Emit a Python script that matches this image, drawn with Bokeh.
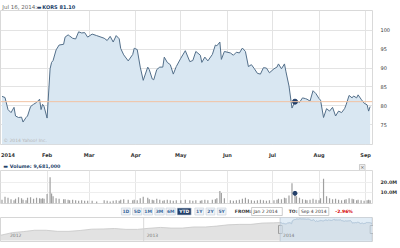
import pandas as pd
from bokeh.plotting import figure
from bokeh.layouts import column
from bokeh.models import Range1d, FixedTicker, PrintfTickFormatter, Span, Label, BoxAnnotation, ColumnDataSource
from bokeh.embed import file_html
from bokeh.resources import INLINE
from bokeh.core.properties import value

# ---------------- data ----------------
dates = [
    "2014-01-02", "2014-01-04", "2014-01-06", "2014-01-08", "2014-01-10", "2014-01-11", "2014-01-13", "2014-01-15",
    "2014-01-16", "2014-01-18", "2014-01-19", "2014-01-21", "2014-01-23", "2014-01-25", "2014-01-27", "2014-01-28",
    "2014-01-29", "2014-01-30",
    "2014-02-01", "2014-02-03", "2014-02-04", "2014-02-05", "2014-02-07", "2014-02-09", "2014-02-12", "2014-02-13",
    "2014-02-15", "2014-02-16", "2014-02-18", "2014-02-20", "2014-02-22", "2014-02-24", "2014-02-26", "2014-02-28",
    "2014-03-03", "2014-03-06", "2014-03-11", "2014-03-13", "2014-03-15", "2014-03-17", "2014-03-19", "2014-03-21",
    "2014-03-22", "2014-03-24", "2014-03-27", "2014-03-30", "2014-03-31",
    "2014-04-02", "2014-04-04", "2014-04-06", "2014-04-09", "2014-04-10", "2014-04-12", "2014-04-13", "2014-04-15",
    "2014-04-17", "2014-04-19", "2014-04-20", "2014-04-22", "2014-04-24", "2014-04-26", "2014-04-28",
    "2014-05-01", "2014-05-04", "2014-05-07", "2014-05-09", "2014-05-11", "2014-05-14", "2014-05-15", "2014-05-17",
    "2014-05-19", "2014-05-22", "2014-05-24", "2014-05-25", "2014-05-27", "2014-05-28", "2014-05-30",
    "2014-06-03", "2014-06-05", "2014-06-07", "2014-06-09", "2014-06-11", "2014-06-13", "2014-06-15", "2014-06-17",
    "2014-06-19", "2014-06-21", "2014-06-23", "2014-06-25", "2014-06-27", "2014-06-29",
    "2014-07-02", "2014-07-04", "2014-07-05", "2014-07-07", "2014-07-09", "2014-07-10", "2014-07-12", "2014-07-14",
    "2014-07-16", "2014-07-17", "2014-07-19", "2014-07-21", "2014-07-23", "2014-07-24", "2014-07-26", "2014-07-28",
    "2014-07-30",
    "2014-08-01", "2014-08-02", "2014-08-04", "2014-08-06", "2014-08-08", "2014-08-10", "2014-08-12", "2014-08-14",
    "2014-08-16", "2014-08-18", "2014-08-19", "2014-08-21", "2014-08-23", "2014-08-24", "2014-08-26", "2014-08-27",
    "2014-08-29", "2014-08-31",
    "2014-09-02", "2014-09-03", "2014-09-04",
]
close = [
    82.5, 82.2, 79.0, 78.2, 79.6, 77.3, 76.9, 77.0, 75.7, 76.9, 77.3, 79.8, 80.4, 80.9, 81.75, 79.0, 80.4, 79.8,
    76.75, 89.8, 91.5, 92.0, 94.8, 96.1, 96.3, 98.2, 98.8, 98.5, 97.9, 97.7, 99.6, 99.3, 99.4, 98.2,
    99.0, 98.6, 97.9, 97.3, 98.4, 96.9, 98.6, 97.75, 95.2, 93.5, 91.9, 93.6, 95.25,
    94.9, 90.25, 86.75, 90.25, 89.6, 87.1, 86.9, 89.6, 90.25, 90.25, 92.9, 91.5, 90.9, 88.4, 90.4,
    92.6, 94.6, 91.7, 92.0, 94.4, 93.4, 91.5, 92.9, 91.9, 93.6, 96.1, 95.9, 96.9, 92.3, 94.4,
    94.0, 93.4, 94.2, 94.0, 95.3, 94.4, 90.4, 90.9, 89.8, 88.6, 88.4, 90.1, 90.0, 88.75,
    89.8, 90.25, 91.1, 89.8, 91.1, 89.0, 85.25, 79.4, 81.1, 81.4, 80.9, 82.1, 81.9, 81.75, 81.25, 84.0, 83.2,
    81.9, 81.5, 76.9, 79.25, 78.6, 79.6, 77.3, 78.6, 78.2, 79.25, 80.25, 82.75, 82.1, 82.6, 82.1, 82.9, 81.75, 80.7,
    80.25, 78.6, 79.8,
]
volume_m = [
    3.5, 6.5, 5.5, 4.0, 3.0, 4.5, 6.0, 5.0, 3.5, 3.0, 5.5, 6.0, 4.5, 5.5, 5.0, 4.5, 5.0, 4.5,
    9.0, 25.0, 9.5, 7.0, 5.0, 4.5, 4.0, 4.0, 3.5, 3.0, 3.5, 3.0, 2.5, 3.0, 2.5, 2.5,
    2.5, 2.0, 3.0, 2.5, 2.0, 2.5, 3.0, 2.5, 3.5, 4.0, 3.5, 3.0, 3.5,
    3.0, 5.0, 6.5, 5.5, 4.0, 3.5, 3.0, 4.5, 3.5, 2.5, 3.0, 3.5, 3.0, 2.5, 3.0,
    3.0, 3.5, 3.0, 2.5, 3.0, 2.5, 3.0, 3.5, 3.0, 3.5, 4.0, 5.0, 12.0, 10.0, 5.0,
    3.0, 2.5, 3.0, 3.5, 4.5, 5.5, 4.0, 3.0, 2.5, 3.0, 3.5, 3.0, 2.5, 3.0,
    3.0, 3.5, 4.5, 4.0, 5.5, 5.0, 7.5, 19.3, 9.681, 7.0, 5.5, 4.0, 3.5, 3.0, 3.5, 4.5, 3.5,
    3.0, 5.0, 23.5, 7.0, 5.0, 4.0, 4.5, 3.5, 3.0, 3.5, 4.0, 5.0, 4.5, 4.0, 3.0, 3.5, 3.0, 2.5,
    3.0, 3.5, 3.0,
]
marker_date = "2014-07-16"
marker_close = 81.10
marker_volume_m = 9.681
ref_level = 81.10

price_ticks = [75, 80, 85, 90, 95, 100]
vol_ticks = [10, 20]
month_tick_dates = ["2014-01-06", "2014-02-01", "2014-03-01", "2014-04-01", "2014-05-01",
                    "2014-06-01", "2014-07-01", "2014-08-01", "2014-09-01"]
month_tick_labels = ["2014", "Feb", "Mar", "Apr", "May", "Jun", "Jul", "Aug", "Sep"]
month_grid_dates = month_tick_dates[1:]

nav_dates = ["2011-12-15", "2012-01-15", "2012-02-15", "2012-03-15", "2012-04-15", "2012-05-15", "2012-06-15",
             "2012-07-15", "2012-08-15", "2012-09-15", "2012-10-15", "2012-11-15", "2012-12-15",
             "2013-01-15", "2013-02-15", "2013-03-15", "2013-04-15", "2013-05-15", "2013-06-15",
             "2013-07-15", "2013-08-15", "2013-09-15", "2013-10-15", "2013-11-15", "2013-12-15"]
nav_close = [24, 36, 41, 47, 47, 42, 42, 46, 52, 53, 55, 51, 51,
             56, 60, 57, 57, 62, 62, 66, 72, 74, 74, 80, 81]
nav_year_dates = ["2012-01-01", "2013-01-01", "2014-01-01"]
nav_year_labels = ["2012", "2013", "2014"]
sel_start, sel_end = "2014-01-02", "2014-09-04"

range_buttons = ["1D", "5D", "1M", "3M", "6M", "YTD", "1Y", "2Y", "5Y"]
active_button = "YTD"
from_label, from_text = "FROM:", "Jan 2 2014"
to_label, to_text = "TO:", "Sep 4 2014"
change_text = "-2.96%"
header_date = "Jul 16, 2014:"
header_symbol = "KORS 81.10"
volume_header = "Volume: 9,681,000"
copyright_text = "\u00a9 2014 Yahoo! Inc."

# ---------------- helpers / styles ----------------
FONT = "DejaVu Sans"
NAVY = "#233f69"


def ms(s):
    return pd.Timestamp(s).value // 10**6


src = ColumnDataSource(dict(x=pd.to_datetime(dates), close=close, vol=volume_m))
xr = Range1d(ms("2014-01-01"), ms("2014-09-05 14:00"))
common = dict(output_backend="svg", toolbar_location=None, border_fill_color="white",
              background_fill_color="white")


def pixel_fig(h):
    f = figure(width=400, height=h, x_range=Range1d(0, 400), y_range=Range1d(h, 0),
               x_axis_location=None, y_axis_location=None, min_border=0, **common)
    f.outline_line_color = None
    f.grid.visible = False
    return f


# ---------------- header strip ----------------
h1 = pixel_fig(10)
h1.text(x=[2], y=[4.3], text=[header_date], text_font=value(FONT), text_font_size="5.5px",
        text_baseline="middle", text_color="#666666")
h1.text(x=[39], y=[4.3], text=["\u25ac"], text_font=value(FONT), text_font_size="5px",
        text_baseline="middle", text_color=NAVY)
h1.text(x=[45], y=[4.3], text=[header_symbol], text_font=value(FONT), text_font_size="5px",
        text_font_style="bold", text_baseline="middle", text_color=NAVY)

# ---------------- main price panel ----------------
Y0, Y1 = 69.75, 105.25
p = figure(width=400, height=150, x_range=xr, y_range=Range1d(Y0, Y1), x_axis_type="datetime",
           y_axis_location="right", min_border_left=0, min_border_right=17, min_border_top=0,
           min_border_bottom=8, **common)
p.outline_line_color = "#d9d9d9"
p.varea(x="x", y1=Y0, y2="close", source=src, fill_color="#d9e7f2")
p.line(x="x", y="close", source=src, line_color="#536f8a", line_width=1)
p.add_layout(Span(location=ref_level, dimension="width", line_color="#f2c3a3", line_width=1))
p.scatter(x=[pd.Timestamp(marker_date)], y=[marker_close], size=5, fill_color=NAVY, line_color=NAVY)

p.xgrid.ticker = FixedTicker(ticks=[ms(d) for d in month_grid_dates])
p.ygrid.ticker = FixedTicker(ticks=price_ticks)
p.xgrid.grid_line_color = "#e3e3e3"
p.ygrid.grid_line_color = "#e3e3e3"

p.xaxis.ticker = FixedTicker(ticks=[ms(d) for d in month_tick_dates])
p.xaxis.major_label_overrides = {ms(d): t for d, t in zip(month_tick_dates, month_tick_labels)}
p.yaxis.ticker = FixedTicker(ticks=price_ticks)
for ax in (p.xaxis[0], p.yaxis[0]):
    ax.axis_line_color = None
    ax.major_tick_line_color = None
    ax.minor_tick_line_color = None
    ax.major_label_text_font = FONT
    ax.major_label_text_font_size = "5px"
    ax.major_label_text_color = "#333333"
p.xaxis.major_label_standoff = 1
p.xaxis.major_label_text_font_style = "bold"
p.yaxis.major_label_standoff = 2

p.add_layout(Label(x=3, y=2, x_units="screen", y_units="screen", text=copyright_text, text_font=FONT,
                   text_font_size="4.5px", text_baseline="bottom", text_color="#b5b5b5"))

# ---------------- volume header strip ----------------
h2 = pixel_fig(10)
h2.text(x=[3], y=[3.8], text=["\u25ac"], text_font=value(FONT), text_font_size="5px",
        text_baseline="middle", text_color=NAVY)
h2.text(x=[10], y=[3.8], text=[volume_header], text_font=value(FONT), text_font_size="4.8px",
        text_font_style="bold", text_baseline="middle", text_color=NAVY)
h2.quad(left=[386], right=[392], top=[2], bottom=[8], fill_color="#eeeeee", line_color="#b0b0b0",
        line_width=0.6)
h2.text(x=[389], y=[4.5], text=["\u00d7"], text_font=value(FONT), text_font_size="5px",
        text_align="center", text_baseline="middle", text_color="#555555")

# ---------------- volume panel ----------------
v = figure(width=400, height=35, x_range=xr, y_range=Range1d(0, 31.4), x_axis_type="datetime",
           x_axis_location=None, y_axis_location="right", min_border_left=0, min_border_right=17,
           min_border_top=0, min_border_bottom=2, **common)
v.outline_line_color = "#d9d9d9"
v.vbar(x="x", top="vol", width=0.8 * 86400000, source=src, fill_color="#a0a0a0", line_color=None)
v.scatter(x=[pd.Timestamp(marker_date)], y=[marker_volume_m], size=4, fill_color=NAVY, line_color=NAVY)
v.xgrid.ticker = FixedTicker(ticks=[ms(d) for d in month_grid_dates])
v.ygrid.ticker = FixedTicker(ticks=vol_ticks)
v.xgrid.grid_line_color = "#e6e6e6"
v.ygrid.grid_line_color = "#eeeeee"
v.yaxis.ticker = FixedTicker(ticks=vol_ticks)
v.yaxis.formatter = PrintfTickFormatter(format="%.1fM")
v.yaxis.axis_line_color = None
v.yaxis.major_tick_line_color = None
v.yaxis.minor_tick_line_color = None
v.yaxis.major_label_text_font = FONT
v.yaxis.major_label_text_font_size = "4.8px"
v.yaxis.major_label_text_font_style = "bold"
v.yaxis.major_label_text_color = "#333333"
v.yaxis.major_label_standoff = 2

# ---------------- range buttons row ----------------
b = pixel_fig(11)
btn_left = [130, 142, 154, 166, 178, 190, 209, 221, 233]
btn_width = [9.5, 10, 9.5, 10, 10, 15, 9.5, 9.5, 9.5]
btn_right = [l + w for l, w in zip(btn_left, btn_width)]
btn_fill = [NAVY if t == active_button else "#f1f4f7" for t in range_buttons]
btn_text_color = ["white" if t == active_button else "#3d6b9e" for t in range_buttons]
b.quad(left=btn_left, right=btn_right, top=[1.5] * 9, bottom=[8.5] * 9, fill_color=btn_fill,
       line_color="#c3cdd8", line_width=0.6)
b.text(x=[(l + r) / 2 for l, r in zip(btn_left, btn_right)], y=[4.6] * 9, text=range_buttons,
       text_font=value(FONT), text_font_size="4.5px", text_font_style="bold", text_align="center",
       text_baseline="middle", text_color=btn_text_color)
b.quad(left=[270, 321], right=[303, 353], top=[1, 1], bottom=[9, 9], fill_color="white",
       line_color="#a9a9a9", line_width=0.6)
b.text(x=[252, 310], y=[4.6, 4.6], text=[from_label, to_label], text_font=value(FONT), text_font_size="4.5px",
       text_font_style="bold", text_baseline="middle", text_color="#333333")
b.text(x=[272, 323], y=[4.6, 4.6], text=[from_text, to_text], text_font=value(FONT), text_font_size="4.5px",
       text_baseline="middle", text_color="#333333")
b.text(x=[360], y=[4.6], text=[change_text], text_font=value(FONT), text_font_size="4.5px",
       text_font_style="bold", text_baseline="middle", text_color="#d40000")

# ---------------- navigator ----------------
NY0 = -4.6
NY1 = NY0 + 24 / 0.218
nav_src = ColumnDataSource(dict(x=pd.to_datetime(nav_dates + dates), y=nav_close + close))
d = figure(width=400, height=26, x_range=Range1d(ms("2011-12-14 18:00"), ms("2014-09-05 14:00")),
           y_range=Range1d(NY0, NY1), x_axis_type="datetime", x_axis_location=None, y_axis_location=None,
           min_border_left=0, min_border_right=18, min_border_top=1, min_border_bottom=1, **common)
d.outline_line_color = "#d6d6d6"
d.grid.visible = False
d.varea(x="x", y1=0, y2="y", source=nav_src, fill_color="#e2e2e2")
d.line(x="x", y="y", source=nav_src, line_color="#c6c6c6", line_width=0.8)
d.line(x="x", y="close", source=src, line_color="#7d9cbb", line_width=0.8)
for yd in nav_year_dates[1:]:
    d.add_layout(Span(location=ms(yd), dimension="height", line_color="#d2d2d2", line_width=0.8))
d.add_layout(BoxAnnotation(left=ms(sel_start), right=ms(sel_end), fill_color="#cfe1f0", fill_alpha=0.6,
                           line_color="#8fb1cf", line_width=0.8))
for yd, yl in zip(nav_year_dates, nav_year_labels):
    d.add_layout(Label(x=ms(yd), x_offset=3, y=7, y_units="screen", text=yl, text_font=FONT,
                       text_font_size="4.5px", text_baseline="middle", text_color="#7a7a7a"))
d.rect(x=[pd.Timestamp(sel_start), pd.Timestamp(sel_end)], y=[(NY0 + NY1) / 2] * 2, width=3.5, height=8,
       width_units="screen", height_units="screen", fill_color="#f3f3f3", line_color="#707070", line_width=0.7)

# ---------------- scrollbar ----------------
s = pixel_fig(6)
s.quad(left=[0], right=[382], top=[0.5], bottom=[5.5], fill_color="#f1f1f1", line_color="#d6d6d6", line_width=0.6)
s.quad(left=[318], right=[348], top=[0.8], bottom=[5.2], fill_color="#e3e3e3", line_color="#b9b9b9", line_width=0.6)
s.line(x=[328, 338], y=[3, 3], line_color="#9a9a9a", line_width=0.8, line_dash="1 1")

layout = column(h1, p, h2, v, b, d, s, spacing=0)
open("out.html", "w").write(file_html(layout, INLINE))
